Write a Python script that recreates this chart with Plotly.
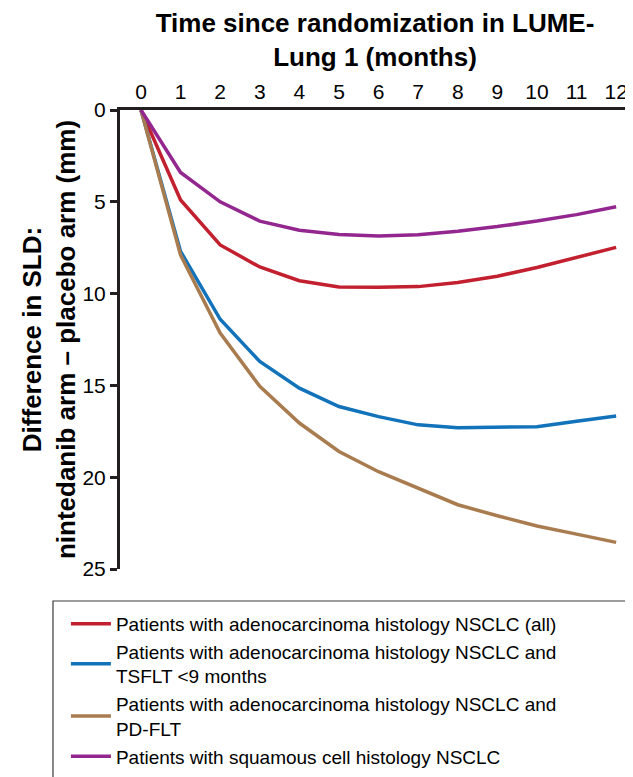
import plotly.graph_objects as go

# months since randomization
months = [0, 1, 2, 3, 4, 5, 6, 7, 8, 9, 10, 11, 12]

# difference in SLD (mm)
adeno_all = [0, 4.9, 7.35, 8.55, 9.3, 9.64, 9.66, 9.62, 9.4, 9.05, 8.58, 8.05, 7.48]
adeno_tsflt = [0, 7.7, 11.4, 13.7, 15.15, 16.15, 16.7, 17.15, 17.3, 17.27, 17.25, 16.95, 16.67]
adeno_pdflt = [0, 7.9, 12.15, 15.05, 17.05, 18.6, 19.7, 20.6, 21.5, 22.1, 22.66, 23.1, 23.55]
squamous = [0, 3.4, 5.0, 6.05, 6.55, 6.78, 6.86, 6.8, 6.6, 6.35, 6.05, 5.7, 5.27]

names = ["Patients with adenocarcinoma histology NSCLC (all)",
         "Patients with adenocarcinoma histology NSCLC and<br>TSFLT <9 months",
         "Patients with adenocarcinoma histology NSCLC and<br>PD-FLT",
         "Patients with squamous cell histology NSCLC"]
colors = ["#c2202f", "#1273bb", "#a97c50", "#93278f"]
series = [adeno_all, adeno_tsflt, adeno_pdflt, squamous]

y_ticks = [0, 5, 10, 15, 20, 25]

fig = go.Figure()
for i in range(4):
    fig.add_trace(go.Scatter(x=months, y=series[i], mode="lines", name=names[i],
                             line=dict(color=colors[i], width=3.5),
                             legendgroup=str(i)))

axis_col = "#231f20"
# the page body adds an 8px margin, so the figure is 8px smaller than the window
fig.update_layout(
    width=625, height=769,
    # autoexpand off so the legend hanging off the bottom doesn't squash the plot
    margin=dict(l=112, r=3, t=102, b=208, autoexpand=False),
    plot_bgcolor="white", paper_bgcolor="white",
    font=dict(family="Liberation Sans, Arial", color="black"),
    showlegend=True,
    legend=dict(x=-0.106, y=-0.078, xanchor="left", yanchor="top",
                font=dict(size=19), itemwidth=40, tracegroupgap=0,
                bgcolor="rgba(0,0,0,0)", borderwidth=0),
    # legend frame, runs off the page like the original
    shapes=[dict(type="rect", xref="paper", yref="paper",
                 x0=-0.1314, x1=1.03, y0=-0.0697, y1=-0.5,
                 line=dict(color="#3a3a3a", width=1.2))],
)
fig.update_xaxes(
    side="top", range=[-0.53, 12.35], tickvals=months, automargin=False,
    showgrid=False, zeroline=False, showline=True, linecolor=axis_col, linewidth=3,
    ticks="", tickfont=dict(size=21),
    title=dict(text="<b>Time since randomization in LUME-<br>Lung 1 (months)</b>",
               font=dict(size=26), standoff=6),
)
fig.update_yaxes(
    range=[25, 0], tickvals=y_ticks, automargin=False,
    showgrid=False, zeroline=False, showline=True, linecolor=axis_col, linewidth=3,
    ticks="outside", ticklen=7, tickwidth=2.5, tickcolor=axis_col, tickfont=dict(size=21),
    title=dict(text="<b>Difference in SLD:<br>nintedanib arm \u2013 placebo arm (mm)</b>",
               font=dict(size=26), standoff=0),
)

fig.write_html("out.html")
